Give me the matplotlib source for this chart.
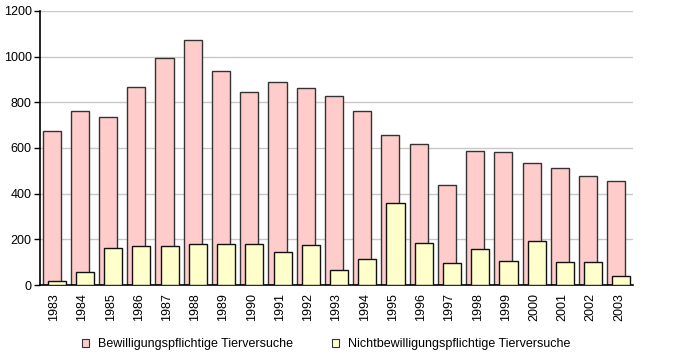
import numpy as np
import matplotlib
matplotlib.use("Agg")
import matplotlib.pyplot as plt
from matplotlib.patches import Patch

plt.rcParams['font.family'] = ['Liberation Sans', 'DejaVu Sans']
plt.rcParams['font.size'] = 9

years = [str(y) for y in range(1983, 2004)]
bewilligungspflichtig = [673, 761, 734, 866, 993, 1072, 936, 844, 888, 862, 826,
                         761, 656, 616, 437, 585, 581, 533, 511, 476, 454]
nichtbewilligungspflichtig = [16, 56, 161, 170, 170, 178, 178, 178, 143, 174, 66,
                              112, 358, 183, 95, 156, 104, 191, 99, 99, 38]
yticks = [0, 200, 400, 600, 800, 1000, 1200]

pink = '#FFCCCC'
yellow = '#FFFFCC'
edge = '#333333'

fig = plt.figure(figsize=(6.8, 3.53), dpi=100)
ax = fig.add_axes([40/680, 1-285/353, (633-40)/680, (285-11)/353])

x = np.arange(len(years))
w = 0.64
off = 0.09
ax.bar(x - off, bewilligungspflichtig, width=w, color=pink, edgecolor=edge, linewidth=1, zorder=2)
ax.bar(x + off, nichtbewilligungspflichtig, width=w, color=yellow, edgecolor='#111111', linewidth=1, zorder=3)

ax.set_xlim(-0.5, len(years) - 0.5)
ax.set_ylim(0, 1200)
ax.set_yticks(yticks)
ax.set_xticks(x)
ax.set_xticklabels(years, rotation=90)
ax.tick_params(axis='x', length=0, pad=6)
ax.tick_params(axis='y', length=4, width=1, pad=2)
ax.yaxis.grid(True, color='#C8C8C8', linewidth=1, zorder=0)
ax.set_axisbelow(True)
for s in ['top', 'right']:
    ax.spines[s].set_visible(False)
ax.spines['left'].set_linewidth(1.2)
ax.spines['bottom'].set_linewidth(1.2)

handles = [Patch(facecolor=pink, edgecolor=edge, linewidth=0.8),
           Patch(facecolor=yellow, edgecolor=edge, linewidth=0.8)]
fig.legend(handles, ['Bewilligungspflichtige Tierversuche', 'Nichtbewilligungspflichtige Tierversuche'],
           loc='center', bbox_to_anchor=(326/680, 1-344/353), ncol=2, frameon=False,
           handlelength=0.6, handleheight=0.6, handletextpad=0.7, columnspacing=3.1,
           fontsize=9)

fig.savefig('out.png', dpi=100)
